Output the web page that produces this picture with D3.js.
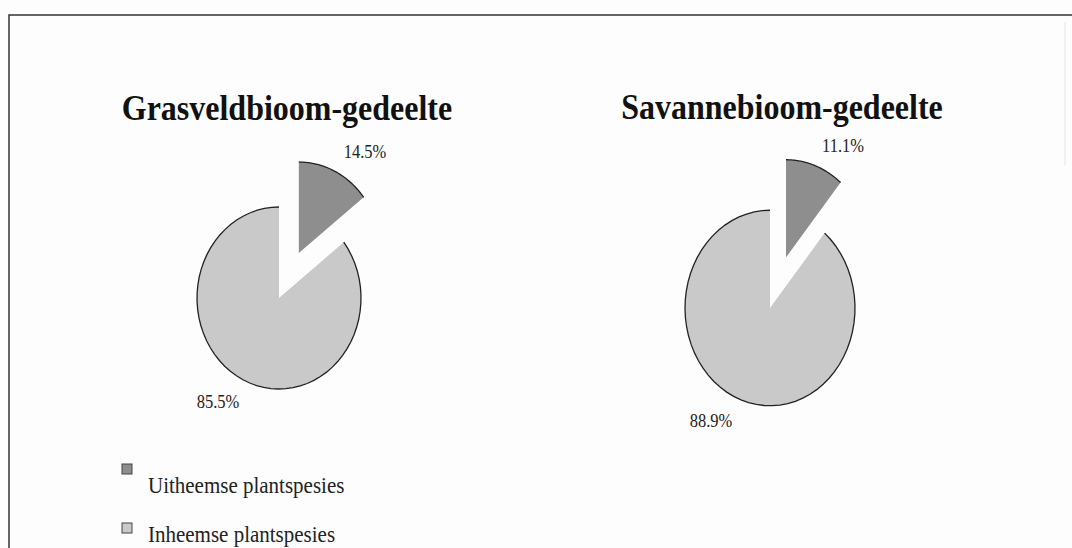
<!DOCTYPE html>
<html>
<head>
<meta charset="utf-8">
<script src="https://cdn.jsdelivr.net/npm/d3@7"></script>
<style>
  body { margin: 0; background: #fdfdfd; }
  svg { display: block; }
</style>
</head>
<body>
<script>
// data
const titles = ["Grasveldbioom-gedeelte", "Savannebioom-gedeelte"];
const categories = ["Uitheemse plantspesies", "Inheemse plantspesies"];
const grasveld = [14.5, 85.5];
const savanne = [11.1, 88.9];
const series = [grasveld, savanne];

let width = 1072, height = 548;
// the scanned page is stretched a little vertically
const stretch = 1.13;

let svg = d3.select("body").append("svg")
    .attr("width", width)
    .attr("height", height)
    .style("font-family", "'Liberation Serif', 'Times New Roman', serif");

// frame
svg.append("path")
    .attr("d", `M9,${height} L9,15 L${width},15`)
    .attr("fill", "none")
    .attr("stroke", "#333")
    .attr("stroke-width", 1.5);
svg.append("line")
    .attr("x1", 1065).attr("x2", 1065).attr("y1", 22).attr("y2", 165)
    .attr("stroke", "#e4e4e4");

const color = d3.scaleOrdinal().domain(categories).range(["#8e8e8e", "#c9c9c9"]);

const pies = [
  { cx: 279, cy: 298, r: 82, sy: 1.11, titleX: 287, titleY: 120, labels: [[365, 158], [218, 408]] },
  { cx: 770, cy: 308, r: 85, sy: 1.15, titleX: 782, titleY: 119, labels: [[843, 152], [711, 427]] }
];

const pie = d3.pie().sort(null).value(d => d);
const explode = 0.55;

pies.forEach((p, i) => {
  const arcs = pie(series[i]);
  const arc = d3.arc().innerRadius(0).outerRadius(p.r);

  let g = svg.append("g")
      .attr("transform", `translate(${p.cx},${p.cy}) scale(1,${p.sy})`);

  let slices = g.selectAll("g.slice")
      .data(arcs)
      .enter().append("g")
      .attr("class", "slice")
      .attr("transform", d => {
        if (d.index !== 0) return null;
        const a = (d.startAngle + d.endAngle) / 2;
        return `translate(${Math.sin(a) * p.r * explode},${-Math.cos(a) * p.r * explode})`;
      });

  slices.append("path")
      .attr("d", arc)
      .attr("fill", d => color(categories[d.index]));

  // dark rim on outer arcs only
  slices.append("path")
      .attr("d", d => {
        const pts = d3.range(0, 61).map(k => {
          const a = d.startAngle + (d.endAngle - d.startAngle) * k / 60;
          return [Math.sin(a) * p.r, -Math.cos(a) * p.r];
        });
        return d3.line()(pts);
      })
      .attr("fill", "none")
      .attr("stroke", "#222")
      .attr("stroke-width", 1.3)
      .attr("vector-effect", "non-scaling-stroke");

  svg.append("text")
      .attr("transform", `translate(${p.titleX},${p.titleY}) scale(1,${stretch})`)
      .attr("text-anchor", "middle")
      .style("font-size", "32px")
      .style("font-weight", "bold")
      .attr("fill", "#111")
      .text(titles[i]);

  svg.selectAll(null)
      .data(arcs)
      .enter().append("text")
      .attr("transform", d => `translate(${p.labels[d.index][0]},${p.labels[d.index][1]}) scale(1,${stretch})`)
      .attr("text-anchor", "middle")
      .style("font-size", "16.5px")
      .attr("fill", "#222")
      .text(d => d.data.toFixed(1) + "%");
});

// legend
const legend = svg.selectAll(".legend")
    .data(categories)
    .enter().append("g")
    .attr("class", "legend")
    .attr("transform", (d, i) => `translate(0,${i * 59})`);

legend.append("rect")
    .attr("x", 122)
    .attr("y", 464)
    .attr("width", 10)
    .attr("height", 10)
    .attr("fill", d => color(d))
    .attr("stroke", "#444")
    .attr("stroke-width", 1);

legend.append("text")
    .attr("transform", (d, i) => `translate(148,${i === 0 ? 493 : 483}) scale(1,${stretch})`)
    .style("font-size", "21px")
    .attr("fill", "#222")
    .text(d => d);
</script>
</body>
</html>
